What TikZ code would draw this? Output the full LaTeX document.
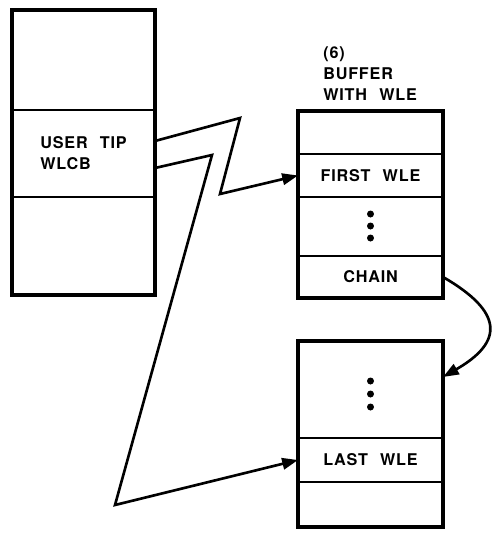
\documentclass[tikz,border=0pt]{standalone}
\usepackage{fontspec}
\setmainfont{TeX Gyre Heros}[WordSpace=2.3,LetterSpace=5]
\usetikzlibrary{arrows.meta}

\begin{document}
\begin{tikzpicture}[x=0.02cm, y=-0.02cm, font=\bfseries\fontsize{9.2}{12}\selectfont,
  >={Triangle[length=9pt,width=6.5pt]},
  cell/.style={draw, line width=1.2pt, inner sep=0pt, outer sep=0pt, align=left},
  frame/.style={line width=2pt},
  link/.style={line width=1.5pt}]
\useasboundingbox (0,0) rectangle (492,535);
% user control block
\node[cell, minimum width=2.86cm, minimum height=2cm] (wlcbtop) at (83.5,60) {};
\node[cell, minimum width=2.86cm, minimum height=1.74cm] (wlcb) at (83.5,153.5) {USER TIP\\WLCB};
\node[cell, minimum width=2.86cm, minimum height=1.96cm] (wlcbbot) at (83.5,246) {};
\draw[frame] (wlcbtop.north west) rectangle (wlcbbot.south east);
% first buffer
\node[anchor=north west, align=left, inner sep=0pt] (bufflabel) at (323,46) {(6)\\BUFFER\\WITH WLE};
\node[cell, minimum width=2.9cm, minimum height=0.86cm] (bufftop) at (370.5,132.5) {};
\node[cell, minimum width=2.9cm, minimum height=0.86cm] (firstwle) at (370.5,175.5) {FIRST WLE};
\node[cell, minimum width=2.9cm, minimum height=1.18cm] (buffdots) at (370.5,226.5) {};
\node[cell, minimum width=2.9cm, minimum height=0.84cm] (chain) at (370.5,277) {CHAIN};
\draw[frame] (bufftop.north west) rectangle (chain.south east);
\foreach \d in {214,226,238}
  \fill (buffdots.center |- 0,\d) circle (0.07cm);
% next buffer
\node[cell, minimum width=2.9cm, minimum height=1.94cm] (nextdots) at (370.5,389.5) {};
\node[cell, minimum width=2.9cm, minimum height=0.88cm] (lastwle) at (370.5,460) {LAST WLE};
\node[cell, minimum width=2.9cm, minimum height=0.9cm] (nextbot) at (370.5,504.5) {};
\draw[frame] (nextdots.north west) rectangle (nextbot.south east);
\foreach \d in {381,394,407}
  \fill (nextdots.center |- 0,\d) circle (0.07cm);
% pointers
\coordinate (k1) at (240,118);
\coordinate (k2) at (220,194);
\coordinate (k3) at (212,155);
\coordinate (k4) at (115,505);
\draw[link, ->] ([yshift=0.25cm]wlcb.east) -- (k1) -- (k2) -- (firstwle.west);
\draw[link, ->] ([yshift=-0.29cm]wlcb.east) -- (k3) -- (k4) -- (lastwle.west);
\draw[link, ->] (chain.east) to[out=-30, in=30, looseness=1.8] ([yshift=0.25cm]nextdots.east);
\end{tikzpicture}
\end{document}
